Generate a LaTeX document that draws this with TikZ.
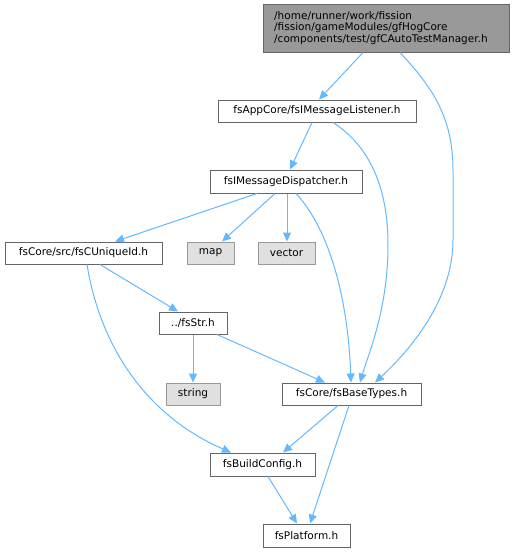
\documentclass[tikz,border=0pt]{standalone}
\usepackage{fontspec}
\setmainfont{DejaVu Sans}
\usetikzlibrary{arrows.meta}
\definecolor{edgec}{HTML}{63B8FF}
\definecolor{bordc}{HTML}{666666}
\definecolor{sysfill}{HTML}{E0E0E0}
\definecolor{sysbord}{HTML}{999999}
\definecolor{topfill}{HTML}{999999}
\begin{document}
\begin{tikzpicture}[x=1pt,y=-1pt,
  every node/.style={font=\fontsize{10.5}{11.5}\selectfont, inner sep=0pt, text=black},
  filebox/.style={draw=bordc, fill=white, line width=1pt, minimum height=22pt},
  sysbox/.style={draw=sysbord, fill=sysfill, line width=1pt, minimum height=22pt},
  topbox/.style={draw=bordc, fill=topfill, line width=1pt, minimum height=48pt, minimum width=246pt},
  edge/.style={draw=edgec, line width=1pt, -{Triangle[length=9pt,width=8pt]}}]
\useasboundingbox (0,0) rectangle (513,552);

\node[topbox] (top) at (386,28) {};
\node[anchor=west, align=left] (toptext) at (274,28) {/home/runner/work/fission\\/fission/gameModules/gfHogCore\\/components/test/gfCAutoTestManager.h};
\node[filebox, minimum width=198pt] (lis) at (317,111) {fsAppCore/fsIMessageListener.h};
\node[filebox, minimum width=152pt, minimum height=23pt] (dis) at (286,181.5) {fsIMessageDispatcher.h};
\node[filebox, minimum width=157pt] (uid) at (83.5,253) {fsCore/src/fsCUniqueId.h};
\node[sysbox, minimum width=47pt] (map) at (210.5,253) {map};
\node[sysbox, minimum width=57pt] (vec) at (286.5,253) {vector};
\node[filebox, minimum width=68pt] (str) at (193,323) {../fsStr.h};
\node[sysbox, minimum width=54pt] (string) at (193,394) {string};
\node[filebox, minimum width=139pt] (base) at (351.5,394) {fsCore/fsBaseTypes.h};
\node[filebox, minimum width=105pt, minimum height=23pt] (bc) at (262.5,464.5) {fsBuildConfig.h};
\node[filebox, minimum width=87pt, minimum height=23pt] (plat) at (306.5,535.5) {fsPlatform.h};

% edges
\draw[edge] ([xshift=-23pt]top.south) -- ([xshift=2pt]lis.north);
\draw[edge] ([xshift=14pt]top.south) .. controls (430,85) and (453,115) .. (453,170)
  -- (453,240) .. controls (453,300) and (410,350) .. ([xshift=23.5pt]base.north);
\draw[edge] ([xshift=-5pt]lis.south) -- ([xshift=4pt]dis.north);
\draw[edge] ([xshift=16pt]lis.south) .. controls (368,145) and (388,185) .. (388,245)
  .. controls (388,310) and (368,355) .. ([xshift=8.5pt]base.north);
\draw[edge] ([xshift=-29pt]dis.south) -- ([xshift=31.5pt]uid.north);
\draw[edge] ([xshift=-11pt]dis.south) -- ([xshift=11.5pt]map.north);
\draw[edge] ([xshift=1pt]dis.south) -- ([xshift=0.5pt]vec.north);
\draw[edge] ([xshift=10pt]dis.south) .. controls (330,230) and (348,300) .. ([xshift=-0.5pt]base.north);
\draw[edge] ([xshift=16.5pt]uid.south) -- ([xshift=-15pt]str.north);
\draw[edge] ([xshift=3.5pt]uid.south) .. controls (100,345) and (145,415) .. ([xshift=-31.5pt]bc.north);
\draw[edge] (str.south) -- (string.north);
\draw[edge] ([xshift=24pt]str.south) -- ([xshift=-26.5pt]base.north);
\draw[edge] ([xshift=-13.5pt]base.south) -- ([xshift=20.5pt]bc.north);
\draw[edge] ([xshift=-2.5pt]base.south) -- ([xshift=3.5pt]plat.north);
\draw[edge] ([xshift=5.5pt]bc.south) -- ([xshift=-9.5pt]plat.north);
\end{tikzpicture}
\end{document}
